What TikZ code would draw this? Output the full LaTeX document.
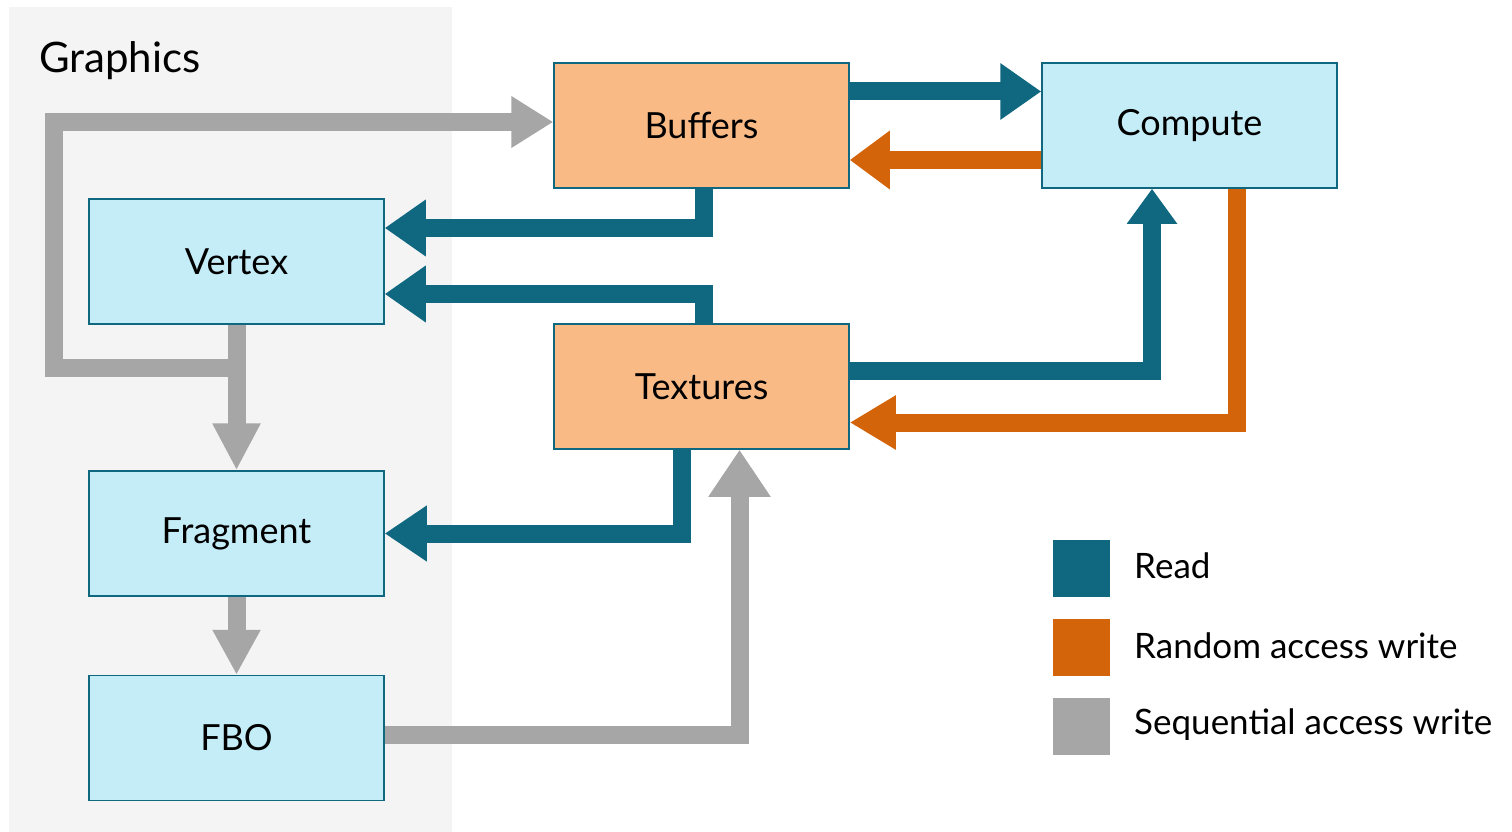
\documentclass[tikz,border=0pt]{standalone}
\usepackage{fontspec}
\setmainfont{Lato}
\usetikzlibrary{arrows.meta}
\definecolor{readc}{HTML}{0F6880}
\definecolor{randc}{HTML}{D4640A}
\definecolor{seqc}{HTML}{A6A6A6}
\definecolor{bluebox}{HTML}{C5EDF7}
\definecolor{orangebox}{HTML}{F9BA86}
\definecolor{panelc}{HTML}{F4F4F4}
\begin{document}
\begin{tikzpicture}[x=1pt,y=-1pt,
  box/.style={draw=readc, line width=1.5pt, minimum width=295pt, minimum height=125pt, inner sep=0pt, font=\fontsize{36}{44}\selectfont},
  stage/.style={box, fill=bluebox},
  res/.style={box, fill=orangebox},
  conn/.style={line width=18pt, line join=miter, line cap=butt},
  readarr/.style={conn, draw=readc, -{Triangle[length=41pt,width=54pt]}},
  randarr/.style={conn, draw=randc, -{Triangle[length=43pt,width=54pt]}},
  seqarr/.style={conn, draw=seqc, -{Triangle[length=45pt,width=50pt]}},
  legsq/.style={minimum width=57pt, minimum height=57pt, inner sep=0pt},
  legtxt/.style={anchor=base west, inner sep=0pt, font=\fontsize{35}{40}\selectfont},
]
\useasboundingbox (0,0) rectangle (1512,832);
\fill[panelc] (9,7) rectangle (452,832);
\node[anchor=base west, inner sep=0pt, font=\fontsize{42}{50}\selectfont] (title) at (39,73) {Graphics};

\node[res] (buffers) at (701.5,125.5) {\raisebox{-2pt}{Buffers}};
\node[stage] (compute) at (1189.5,125.5) {\raisebox{-2pt}{Compute}};
\node[stage] (vertex) at (236.5,261.5) {\raisebox{-2pt}{Vertex}};
\node[res] (textures) at (701.5,386.5) {\raisebox{-2pt}{Textures}};
\node[stage] (fragment) at (236.5,533.5) {\raisebox{-2pt}{Fragment}};
\node[stage] (fbo) at (236.5,738) {\raisebox{-2pt}{FBO}};

% read arrows
\draw[readarr] ([yshift=34pt]buffers.east) -- ([yshift=34pt]compute.west);
\draw[readarr] ([xshift=2.5pt]buffers.south) |- ([yshift=33.5pt]vertex.east);
\draw[readarr] ([xshift=2.5pt]textures.north) |- ([yshift=-32.5pt]vertex.east);
\draw[readarr, -{Triangle[length=35pt,width=48pt]}] ([yshift=15.5pt]textures.east) -| ([xshift=-37.5pt]compute.south);
\draw[readarr, -{Triangle[length=42pt,width=53pt]}] ([xshift=-20pt]textures.south) |- (fragment.east);

% random access write arrows
\draw[randarr, -{Triangle[length=40pt,width=56pt]}] ([yshift=-34.5pt]compute.west) -- ([yshift=-34.5pt]buffers.east);
\draw[randarr, -{Triangle[length=46pt,width=51pt]}] ([xshift=47.5pt]compute.south) |- ([yshift=-36pt]textures.east);

% sequential access write arrows
\draw[seqarr, -{Triangle[length=47pt,width=45pt]}] (vertex.south) -- (fragment.north);
\draw[seqarr, -{Triangle[length=45pt,width=45pt]}] (fragment.south) -- (fbo.north);
\draw[seqarr, -{Triangle[length=47pt,width=59pt]}] ([yshift=3pt]fbo.east) -| ([xshift=38pt]textures.south);
\coordinate (j) at ([xshift=9.5pt]vertex.south |- 0,367.5);
\coordinate (loopc) at (53.5,122);
\draw[seqarr, -{Triangle[length=42pt,width=49pt]}] (j) -| (loopc) -- ([yshift=3.5pt]buffers.west);

% legend
\node[legsq, fill=readc] (lread) at (1081.5,568.5) {};
\node[legsq, fill=randc] (lrand) at (1081.5,647.5) {};
\node[legsq, fill=seqc] (lseq) at (1081.5,726.5) {};
\node[legtxt] (tread) at (1134,578) {Read};
\node[legtxt] (trand) at (1134,658) {Random access write};
\node[legtxt] (tseq) at (1134,734) {Sequential access write};
\end{tikzpicture}
\end{document}
